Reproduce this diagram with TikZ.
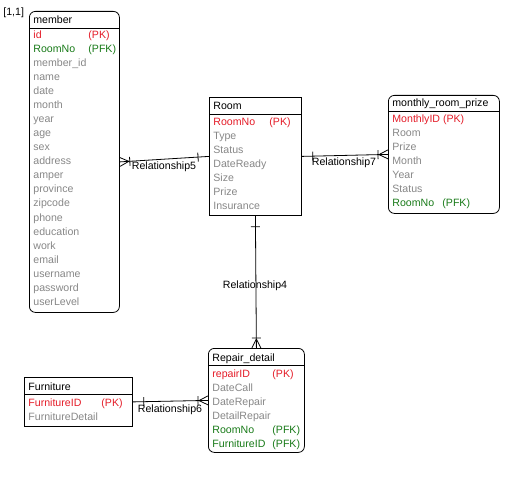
\documentclass[tikz,border=0pt]{standalone}
\usepackage{fontspec}
\setmainfont{Liberation Sans}
\usetikzlibrary{decorations.markings}
\definecolor{pkred}{RGB}{228,28,40}
\definecolor{fkgreen}{RGB}{24,122,24}
\definecolor{attgray}{RGB}{135,135,135}
\begin{document}
\begin{tikzpicture}[x=1bp,y=-1bp,
  font=\fontsize{10.6bp}{12bp}\selectfont,
  line width=0.8bp,
  box/.style={draw, inner sep=0pt, anchor=north west},
  rbox/.style={box, rounded corners=6bp},
  txt/.style={anchor=west, inner sep=0pt, text height=9bp, text depth=1bp},
  hdr/.style={txt, text=black},
  att/.style={txt, text=attgray},
  pk/.style={txt, text=pkred},
  fk/.style={txt, text=fkgreen},
  rel/.style={inner sep=0pt, text=black, text height=9bp, text depth=1bp},
  conn/.style={draw, postaction={decorate}, decoration={markings,
    mark=at position 11bp with {\draw (0,-4.5bp)--(0,4.5bp);},
    mark=at position 1 with {\draw (-9bp,0)--(0,4.5bp) (-9bp,0)--(0,-4.5bp); \draw (-10bp,-4.5bp)--(-10bp,4.5bp);}}}
]
\useasboundingbox (0,0) rectangle (527,498);
\node[txt, text=black] (tag) at (3,12) {[1,1]};

% member
\node[rbox, minimum width=90bp, minimum height=301bp] (member) at (29,11) {};
\draw ([yshift=-17bp]member.north west) -- ([yshift=-17bp]member.north east);
\node[hdr] (mh) at (33,20) {member};
\node[pk] (mid) at (33,35) {id};
\node[pk] (midk) at (88,35) {(PK)};
\node[fk] (mroom) at (33,49) {RoomNo};
\node[fk] (mroomk) at (88,49) {(PFK)};
\foreach \t [count=\i] in {member\_id,name,date,month,year,age,sex,address,amper,province,zipcode,phone,education,work,email,username,password,userLevel}
  \node[att] (m\i) at (33,{49+14*\i}) {\t};

% Room
\node[box, minimum width=92bp, minimum height=118bp] (room) at (209,97) {};
\draw ([yshift=-17bp]room.north west) -- ([yshift=-17bp]room.north east);
\node[hdr] (rh) at (213,106) {Room};
\node[pk] (rno) at (213,122) {RoomNo};
\node[pk] (rnok) at (269,122) {(PK)};
\foreach \t [count=\i] in {Type,Status,DateReady,Size,Prize,Insurance}
  \node[att] (r\i) at (213,{122+14*\i}) {\t};

% monthly_room_prize
\node[rbox, minimum width=111bp, minimum height=118bp] (monthly) at (388,95) {};
\draw ([yshift=-16bp]monthly.north west) -- ([yshift=-16bp]monthly.north east);
\node[hdr] (moh) at (392,103) {monthly\_room\_prize};
\node[pk] (moid) at (392,119) {MonthlyID (PK)};
\foreach \t [count=\i] in {Room,Prize,Month,Year,Status}
  \node[att] (mo\i) at (392,{119+14*\i}) {\t};
\node[fk] (moroom) at (392,203) {RoomNo};
\node[fk] (moroomk) at (442,203) {(PFK)};

% Repair_detail
\node[rbox, minimum width=96bp, minimum height=104bp] (repair) at (208,348) {};
\draw ([yshift=-17bp]repair.north west) -- ([yshift=-17bp]repair.north east);
\node[hdr] (reh) at (212,357) {Repair\_detail};
\node[pk] (reid) at (212,373) {repairID};
\node[pk] (reidk) at (272,373) {(PK)};
\foreach \t [count=\i] in {DateCall,DateRepair,DetailRepair}
  \node[att] (re\i) at (212,{373+14*\i}) {\t};
\node[fk] (reroom) at (212,429) {RoomNo};
\node[fk] (reroomk) at (272,429) {(PFK)};
\node[fk] (refur) at (212,443) {FurnitureID};
\node[fk] (refurk) at (272,443) {(PFK)};

% Furniture
\node[box, minimum width=108bp, minimum height=49bp] (furn) at (24,377) {};
\draw ([yshift=-17bp]furn.north west) -- ([yshift=-17bp]furn.north east);
\node[hdr] (fh) at (28,386) {Furniture};
\node[pk] (fid) at (28,402) {FurnitureID};
\node[pk] (fidk) at (101,402) {(PK)};
\node[att] (fdet) at (28,416) {FurnitureDetail};

% relationships
\path[conn] (room.west) -- (member.east);
\path[conn] (room.east) -- (monthly.west);
\path[conn] (room.south) -- (repair.north);
\path[conn] (furn.east) -- (repair.west);

\node[rel] (r5) at (164,166) {Relationship5};
\node[rel] (r7) at (344,162) {Relationship7};
\node[rel] (r4) at (255,284) {Relationship4};
\node[rel] (r6) at (170,408) {Relationship6};
\end{tikzpicture}
\end{document}
